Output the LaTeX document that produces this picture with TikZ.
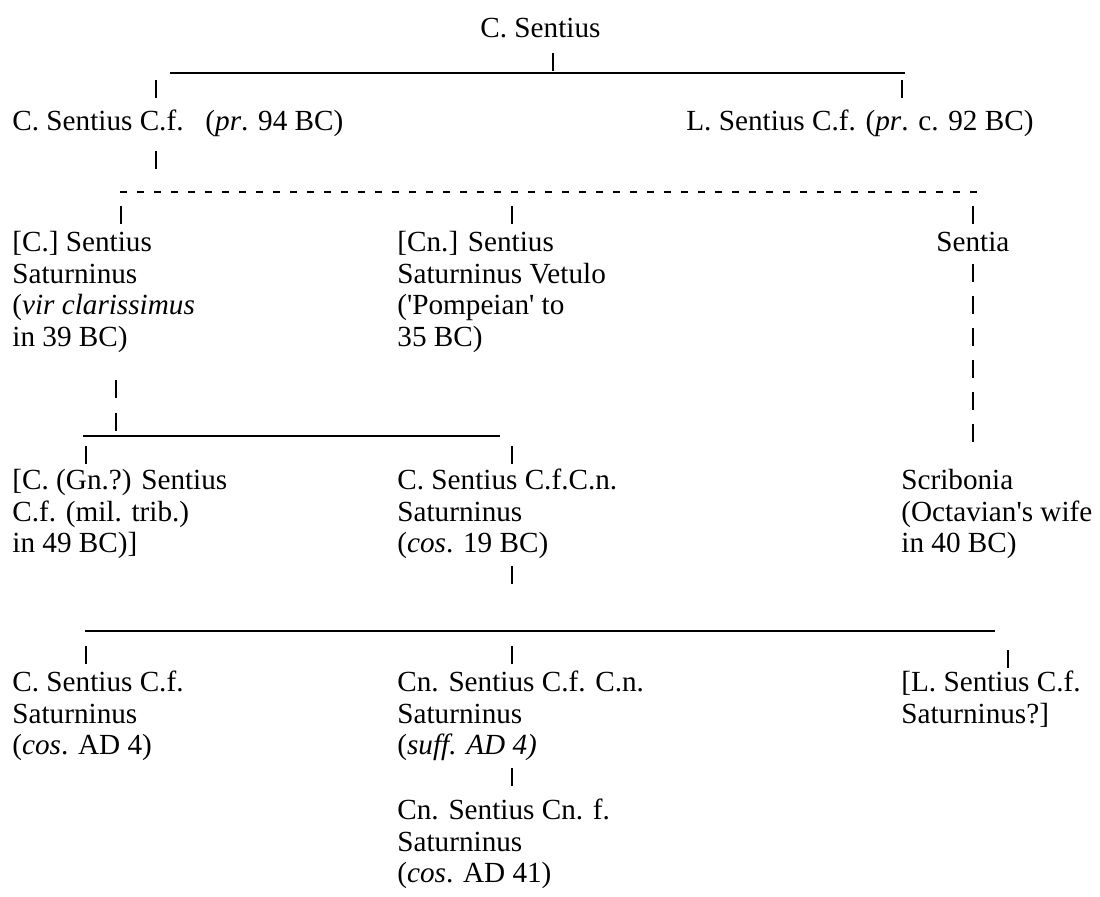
\documentclass[tikz,border=0pt]{standalone}
\usepackage{fontspec}
\setmainfont{Liberation Serif}
\usepackage{tikz}
\usetikzlibrary{positioning}

\begin{document}
\begin{tikzpicture}[
  x=0.5pt, y=-0.5pt,
  % nodes sit on the baseline of their last line
  person/.style={anchor=base west,inner sep=0pt,align=left,
                 font=\fontsize{14.6}{15.75}\selectfont},
  bar/.style={line width=0.9pt},
  stem/.style={line width=1pt},
  dashbar/.style={line width=0.9pt,dash pattern=on 3.5pt off 5pt}
]
\useasboundingbox (0,0) rectangle (1100,897);

% Generation I-II
\node[person] (cs)  at (480,38)  {C. Sentius};
\node[person] (csf) at (12,131)  {C. Sentius C.f.\ \ \ (\textit{pr}. 94 BC)};
\node[person] (lsf) at (686,131) {L. Sentius C.f. (\textit{pr}. c. 92 BC)};

% Generation III
\node[person] (css)    at (12,346.5)  {[C.] Sentius\\Saturninus\\(\textit{vir clarissimus}\\in 39 BC)};
\node[person] (cnv)    at (397,346.5) {[Cn.] Sentius\\Saturninus Vetulo\\(\textquotesingle Pompeian\textquotesingle\ to\\35 BC)};
\node[person] (sentia) at (936,252)   {Sentia};

% Generation IV
\node[person] (gn)    at (12,553)  {[C. (Gn.?) Sentius\\C.f. (mil. trib.)\\in 49 BC)]};
\node[person] (cos19) at (397,553) {C. Sentius C.f.C.n.\\Saturninus\\(\textit{cos}. 19 BC)};
\node[person] (scrib) at (901,553) {Scribonia\\(Octavian\textquotesingle s wife\\in 40 BC)};

% Generation V-VI
\node[person] (cad4)  at (12,755)    {C. Sentius C.f.\\Saturninus\\(\textit{cos}. AD 4)};
\node[person] (suff)  at (397,755)   {Cn. Sentius C.f. C.n.\\Saturninus\\(\textit{suff. AD 4)}};
\node[person] (lsat)  at (901,723.5) {[L. Sentius C.f.\\Saturninus?]};
\node[person] (cad41) at (397,883)   {Cn. Sentius Cn. f.\\Saturninus\\(\textit{cos}. AD 41)};

% Bars
\coordinate (b1w) at (170,73);  \coordinate (b1e) at (905,73);
\coordinate (b2w) at (120,192); \coordinate (b2e) at (979,192);
\coordinate (b3w) at (83,436);  \coordinate (b3e) at (500,436);
\coordinate (b4w) at (85,631);  \coordinate (b4e) at (995,631);
\draw[bar] (b1w) -- (b1e);
\draw[dashbar] (b2w) -- (b2e);
\draw[bar] (b3w) -- (b3e);
\draw[bar] (b4w) -- (b4e);

% Stems (short upright strokes)
\foreach \x/\y in {553/53, 156/80, 902/80, 156/151,
                   121/206, 512/206, 973/206,
                   973/264, 973/296, 973/328, 973/360, 973/392, 973/424,
                   116/380, 116/413, 86/446, 512/446,
                   512/566, 86/646, 512/646, 1008/650, 512/768}
  \draw[stem] (\x,\y) -- ++(0,18);

\end{tikzpicture}
\end{document}
